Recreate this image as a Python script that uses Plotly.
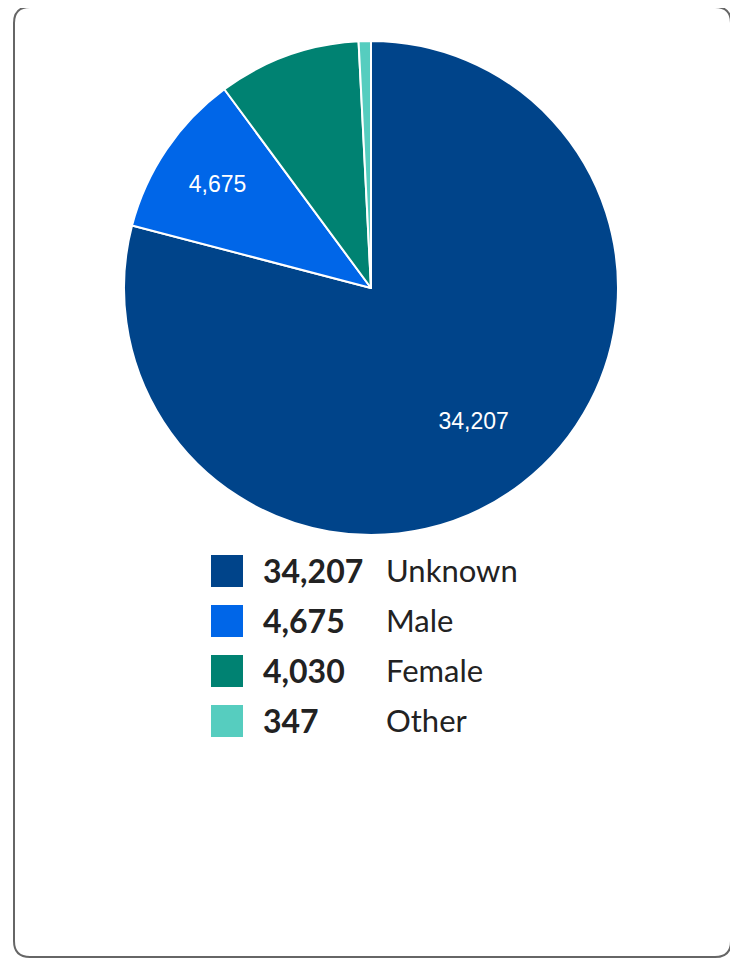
import plotly.graph_objects as go

# page body adds an 8px margin, so the figure is a bit smaller than the window
PAGE_OFF = 8
W, H = 738 - PAGE_OFF, 959 - PAGE_OFF

labels = ["Unknown", "Male", "Female", "Other"]
values = [34207, 4675, 4030, 347]
colors = ["#00448a", "#0066e8", "#008272", "#56cdbf"]
show_label = [True, True, False, False]

FONT = "Lato, 'Open Sans', sans-serif"


def px_x(x):
    return (x - PAGE_OFF) / W


def px_y(y):
    return 1 - (y - PAGE_OFF) / H


# pie geometry in window pixels
cx, cy, r = 371, 288, 247
domain = {"x": [px_x(cx - r), px_x(cx + r)], "y": [px_y(cy + r), px_y(cy - r)]}

fig = go.Figure()
fig.add_trace(
    go.Pie(
        labels=labels,
        values=values,
        sort=False,
        direction="clockwise",
        rotation=0,
        marker={"colors": colors, "line": {"color": "white", "width": 2}},
        textinfo="none",
        hoverinfo="label+value",
        domain=domain,
        showlegend=False,
    )
)
# transparent ring on top only to carry the value labels further out
fig.add_trace(
    go.Pie(
        labels=labels,
        values=values,
        sort=False,
        direction="clockwise",
        rotation=0,
        hole=0.36,
        marker={"colors": ["rgba(0,0,0,0)"] * len(values), "line": {"width": 0}},
        texttemplate=["%{value:,}" if s else "" for s in show_label],
        textposition="inside",
        insidetextorientation="horizontal",
        insidetextfont={"color": "white", "size": 23, "family": "Liberation Sans, Arial, sans-serif"},
        hoverinfo="skip",
        domain=domain,
        showlegend=False,
    )
)

shapes = []
annotations = []

# card border with rounded corners
x0, y0, x1, y1, rad = 14, 7, 731, 957, 16
rx, ry = rad / W, rad / H
X0, X1, Y0, Y1 = px_x(x0), px_x(x1), px_y(y1), px_y(y0)
path = (
    f"M {X0 + rx},{Y1} L {X1 - rx},{Y1} Q {X1},{Y1} {X1},{Y1 - ry} "
    f"L {X1},{Y0 + ry} Q {X1},{Y0} {X1 - rx},{Y0} "
    f"L {X0 + rx},{Y0} Q {X0},{Y0} {X0},{Y0 + ry} "
    f"L {X0},{Y1 - ry} Q {X0},{Y1} {X0 + rx},{Y1} Z"
)
shapes.append({"type": "path", "path": path, "xref": "paper", "yref": "paper",
               "line": {"color": "#666666", "width": 2}, "layer": "below"})

# custom legend
row_top, row_step, sq = 555, 50, 32
for i, (lab, val, col) in enumerate(zip(labels, values, colors)):
    top = row_top + i * row_step
    mid = top + sq / 2
    shapes.append({"type": "rect", "xref": "paper", "yref": "paper",
                   "x0": px_x(211), "x1": px_x(211 + sq), "y0": px_y(top + sq), "y1": px_y(top),
                   "fillcolor": col, "line": {"width": 0}})
    annotations.append({"x": px_x(261), "y": px_y(mid - 1), "xref": "paper", "yref": "paper",
                        "text": f"<b>{val:,}</b>", "showarrow": False, "xanchor": "left",
                        "yanchor": "middle", "font": {"size": 32, "color": "#222222", "family": FONT}})
    annotations.append({"x": px_x(384), "y": px_y(mid - 1), "xref": "paper", "yref": "paper",
                        "text": lab, "showarrow": False, "xanchor": "left",
                        "yanchor": "middle", "font": {"size": 31, "color": "#222222", "family": FONT}})

fig.update_layout(
    width=W,
    height=H,
    margin={"l": 0, "r": 0, "t": 0, "b": 0},
    paper_bgcolor="white",
    plot_bgcolor="white",
    shapes=shapes,
    annotations=annotations,
    font={"family": FONT},
)

fig.write_html("out.html")
